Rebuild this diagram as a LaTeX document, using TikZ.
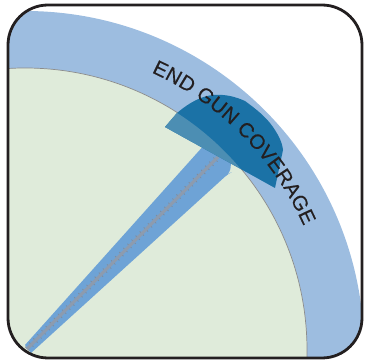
\documentclass[tikz,border=0pt]{standalone}
\usepackage{fontspec}
\setmainfont[FakeBold=0.4]{Liberation Sans}
\usetikzlibrary{calc,decorations.text}
\definecolor{bandblue}{HTML}{9DBDE0}
\definecolor{fieldgreen}{HTML}{DFEBDA}
\definecolor{gundark}{HTML}{1B72A6}
\definecolor{gunlight}{HTML}{4C8EB3}
\definecolor{armblue}{HTML}{6EA3D6}
\definecolor{armgrey}{HTML}{8D9BAE}
\definecolor{tickgrey}{HTML}{7F8C9E}
\definecolor{framedark}{HTML}{231F20}

\begin{document}
\begin{tikzpicture}[
    x=1pt, y=1pt,
    frame/.style={draw=framedark, line width=2.8pt, rounded corners=40pt},
    edge/.style={draw=black!45, line width=0.7pt},
    armline/.style={draw=armgrey, line width=3pt},
    armtick/.style={draw=tickgrey, line width=6pt, dash pattern=on 0.8pt off 5pt}
  ]
    \useasboundingbox (0,0) rectangle (365,362);
    \coordinate (pivot) at (25,12);

    \begin{scope}
      \clip[rounded corners=40pt] (8,4) rectangle (362,357);
      \fill[bandblue] (pivot) circle[radius=339];
      \fill[fieldgreen] (pivot) circle[radius=282];
      \draw[edge] (pivot) circle[radius=282];
      % arm
      \fill[armblue] (25,17) -- (206,219) -- (231,199) [rounded corners=4pt] -- (230,189) -- (228,188) [sharp corners] -- (31,9) -- cycle;
      \draw[armtick] (27,13) -- (218,205);
      \draw[armline] (27,13) -- (218,205);
      % gun sector
      \fill[gundark] (165,235) -- (177,249) .. controls (190,260) and (202,266) .. (213,267)
        .. controls (226,268) and (236,265) .. (245,261)
        .. controls (256,253) and (266,245) .. (273,235)
        .. controls (279,226) and (282,220) .. (283,212)
        -- (275,174) -- cycle;
      \begin{scope}
        \clip (pivot) circle[radius=281.6];
        \fill[gunlight] (165,235) -- (177,249) -- (260,262) -- (275,174) -- cycle;
      \end{scope}
    \end{scope}

    \draw[frame] (8,4) rectangle (362,357);

    \path[decorate, decoration={text along path, text align=fit to path,
        text={|\fontsize{20.5}{20.5}\selectfont\color{framedark}|END GUN COVERAGE}}]
      ($(pivot)+(65.5:305)$) arc[start angle=65.5, end angle=24, radius=305];
\end{tikzpicture}
\end{document}
